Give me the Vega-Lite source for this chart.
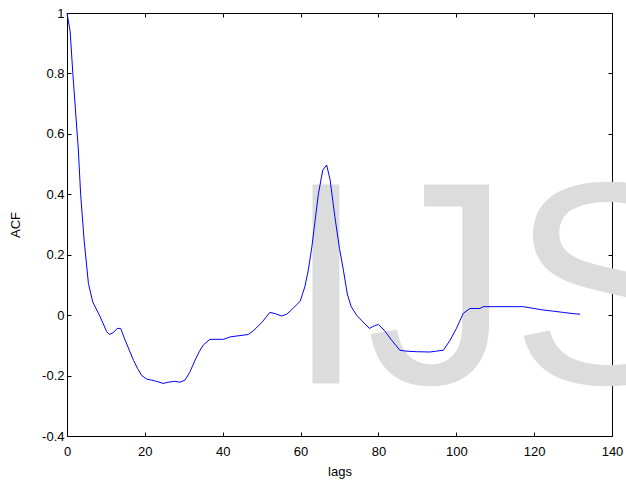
{
  "$schema": "https://vega.github.io/schema/vega-lite/v6.json",
  "width": 545,
  "height": 423,
  "autosize": {"type": "none"},
  "padding": {"left": 67, "top": 13, "right": 14, "bottom": 47},
  "background": "white",
  "config": {
    "view": {"stroke": null},
    "font": "Liberation Sans",
    "axis": {
      "domainColor": "black",
      "domainWidth": 1,
      "tickColor": "black",
      "tickSize": -4,
      "tickWidth": 1,
      "grid": false,
      "labelFont": "Liberation Sans",
      "labelFontSize": 13,
      "labelColor": "black",
      "labelOverlap": false,
      "labelFlush": false,
      "titleFont": "Liberation Sans",
      "titleFontSize": 13,
      "titleFontWeight": "normal",
      "titleColor": "black"
    }
  },
  "datasets": {
    "acf": [
      {"lag": 0, "acf": 1},
      {"lag": 0.8, "acf": 0.94},
      {"lag": 1.5, "acf": 0.8},
      {"lag": 2.9, "acf": 0.55},
      {"lag": 3.5, "acf": 0.4},
      {"lag": 4.4, "acf": 0.248},
      {"lag": 5.5, "acf": 0.105},
      {"lag": 6.6, "acf": 0.044},
      {"lag": 8.5, "acf": -0.005},
      {"lag": 10.2, "acf": -0.055},
      {"lag": 10.9, "acf": -0.064},
      {"lag": 11.9, "acf": -0.058},
      {"lag": 12.9, "acf": -0.044},
      {"lag": 13.8, "acf": -0.044},
      {"lag": 14.6, "acf": -0.072},
      {"lag": 16, "acf": -0.116},
      {"lag": 17.1, "acf": -0.15},
      {"lag": 18.1, "acf": -0.176},
      {"lag": 19.2, "acf": -0.2},
      {"lag": 20.5, "acf": -0.212},
      {"lag": 21.7, "acf": -0.215},
      {"lag": 23, "acf": -0.219},
      {"lag": 24.7, "acf": -0.226},
      {"lag": 26, "acf": -0.222},
      {"lag": 27.7, "acf": -0.219},
      {"lag": 29, "acf": -0.222},
      {"lag": 30.3, "acf": -0.215},
      {"lag": 31.5, "acf": -0.19},
      {"lag": 32.9, "acf": -0.149},
      {"lag": 34, "acf": -0.12},
      {"lag": 35, "acf": -0.099},
      {"lag": 36.7, "acf": -0.08},
      {"lag": 40.2, "acf": -0.08},
      {"lag": 41.9, "acf": -0.072},
      {"lag": 46.6, "acf": -0.064},
      {"lag": 48, "acf": -0.05},
      {"lag": 50, "acf": -0.025},
      {"lag": 52.1, "acf": 0.009},
      {"lag": 53.5, "acf": 0.005},
      {"lag": 55.1, "acf": -0.003},
      {"lag": 56.4, "acf": 0.003},
      {"lag": 57.3, "acf": 0.013},
      {"lag": 59.9, "acf": 0.046},
      {"lag": 61.1, "acf": 0.094},
      {"lag": 62, "acf": 0.15},
      {"lag": 62.9, "acf": 0.226},
      {"lag": 63.8, "acf": 0.32},
      {"lag": 64.6, "acf": 0.403},
      {"lag": 65.7, "acf": 0.48},
      {"lag": 66.7, "acf": 0.497},
      {"lag": 67.6, "acf": 0.447},
      {"lag": 68.8, "acf": 0.326},
      {"lag": 70, "acf": 0.22},
      {"lag": 71, "acf": 0.149},
      {"lag": 72, "acf": 0.07},
      {"lag": 73, "acf": 0.028},
      {"lag": 74.4, "acf": 0},
      {"lag": 76, "acf": -0.022},
      {"lag": 77.7, "acf": -0.044},
      {"lag": 79, "acf": -0.035},
      {"lag": 80, "acf": -0.031},
      {"lag": 81.5, "acf": -0.05},
      {"lag": 83.4, "acf": -0.083},
      {"lag": 85.5, "acf": -0.116},
      {"lag": 87, "acf": -0.119},
      {"lag": 89.8, "acf": -0.121},
      {"lag": 93.2, "acf": -0.122},
      {"lag": 95, "acf": -0.119},
      {"lag": 96.7, "acf": -0.116},
      {"lag": 98.4, "acf": -0.083},
      {"lag": 100, "acf": -0.045},
      {"lag": 101.8, "acf": 0.006},
      {"lag": 103.5, "acf": 0.022},
      {"lag": 106.1, "acf": 0.022},
      {"lag": 106.9, "acf": 0.028},
      {"lag": 117.2, "acf": 0.028},
      {"lag": 120, "acf": 0.022},
      {"lag": 122.3, "acf": 0.017},
      {"lag": 125, "acf": 0.013},
      {"lag": 127.5, "acf": 0.009},
      {"lag": 130, "acf": 0.005},
      {"lag": 131.8, "acf": 0.003}
    ],
    "wm": [
      {"lag": 56.2, "acf": -0.226, "label": "IJS"}
    ]
  },
  "layer": [
    {
      "layer": [
        {
          "data": {"name": "wm"},
          "mark": {"type": "text", "align": "left", "baseline": "alphabetic", "fontSize": 289, "font": "Liberation Sans", "color": "#dcdcdc", "clip": false},
          "encoding": {
            "x": {"field": "lag", "type": "quantitative", "scale": {"domain": [0, 140], "nice": false, "zero": false},
              "axis": {"values": [0, 20, 40, 60, 80, 100, 120, 140], "title": "lags", "labelPadding": 13, "titlePadding": 7}},
            "y": {"field": "acf", "type": "quantitative", "scale": {"domain": [-0.4, 1], "nice": false, "zero": false},
              "axis": {"values": [-0.4, -0.2, 0, 0.2, 0.4, 0.6, 0.8, 1], "title": "ACF", "labelPadding": 7, "titlePadding": 19,
                "labelExpr": "replace(format(datum.value, '~g'), '\u2212', '-')"}},
            "text": {"field": "label"}
          }
        },
        {
          "data": {"name": "acf"},
          "mark": {"type": "line", "color": "#0000ff", "strokeWidth": 1},
          "encoding": {
            "x": {"field": "lag", "type": "quantitative"},
            "y": {"field": "acf", "type": "quantitative"}
          }
        }
      ]
    },
    {
      "data": {"name": "acf"},
      "mark": {"type": "line", "opacity": 0},
      "encoding": {
        "x": {"field": "lag", "type": "quantitative", "scale": {"domain": [0, 140], "nice": false, "zero": false},
          "axis": {"orient": "top", "values": [0, 20, 40, 60, 80, 100, 120, 140], "labels": false, "title": null}},
        "y": {"field": "acf", "type": "quantitative", "scale": {"domain": [-0.4, 1], "nice": false, "zero": false},
          "axis": {"orient": "right", "values": [-0.4, -0.2, 0, 0.2, 0.4, 0.6, 0.8, 1], "labels": false, "title": null}}
      }
    }
  ],
  "resolve": {"axis": {"x": "independent", "y": "independent"}}
}
